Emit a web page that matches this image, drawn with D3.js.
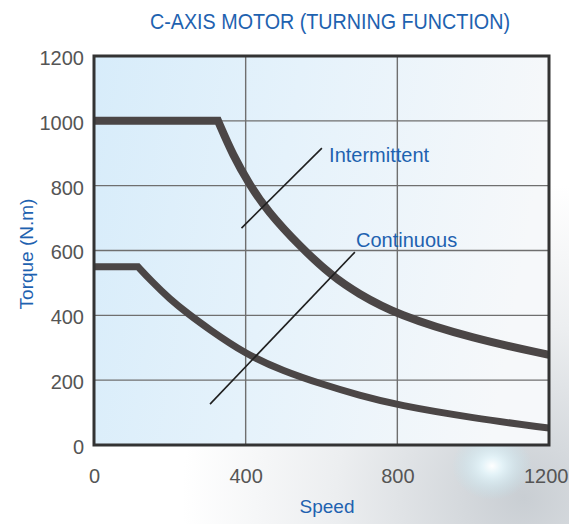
<!DOCTYPE html>
<html>
<head>
<meta charset="utf-8">
<script src="https://cdn.jsdelivr.net/npm/d3@7"></script>
<style>
  html, body { margin: 0; padding: 0; background: #fff; }
  svg { display: block; font-family: "Liberation Sans", Arial, sans-serif; }
</style>
</head>
<body>
<svg id="chart" width="569" height="524"></svg>
<script>
// Torque-speed envelope of the C-axis motor (speed vs torque in N.m)
const intermittentSpeed  = [0, 327, 367, 411, 455, 543, 630, 694, 800, 1000, 1200];
const intermittentTorque = [1000, 1000, 892, 802, 725, 612, 519, 469, 401, 328, 278];

const continuousSpeed  = [0, 116, 150, 200, 250, 300, 400, 500, 600, 700, 800, 1000, 1200];
const continuousTorque = [550, 550, 507, 450, 403, 360, 280, 228, 188, 153, 123, 83, 52];

const xTicks = [0, 400, 800, 1200];
const yTicks = [0, 200, 400, 600, 800, 1000, 1200];

// Callout labels: [text, label anchor (speed, torque), leader start, leader end]
const calloutNames = ["Intermittent", "Continuous"];
const calloutLabelAt = [[620, 873], [691, 611]];
const calloutLeaderFrom = [[389, 669], [306, 126]];
const calloutLeaderTo = [[601, 916], [688, 595]];

const titleText = "C-AXIS MOTOR (TURNING FUNCTION)";
const xTitle = "Speed";
const yTitle = "Torque (N.m)";

const svg = d3.select("#chart");
const W = 569, H = 524;
const plot = { left: 94, right: 549, top: 56, bottom: 445 };

const x = d3.scaleLinear().domain([0, 1200]).range([plot.left, plot.right]);
const y = d3.scaleLinear().domain([0, 1200]).range([plot.bottom, plot.top]);

const defs = svg.append("defs");

// soft page backdrop with a grey sheen and light flare in the lower right
const bgGrad = defs.append("radialGradient").attr("id", "pageGlow")
  .attr("cx", 0.92).attr("cy", 0.95).attr("r", 0.6);
bgGrad.append("stop").attr("offset", 0).attr("stop-color", "#c9ced3");
bgGrad.append("stop").attr("offset", 0.55).attr("stop-color", "#eceef0");
bgGrad.append("stop").attr("offset", 1).attr("stop-color", "#ffffff");
svg.append("rect").attr("width", W).attr("height", H).attr("fill", "url(#pageGlow)");

const flare = defs.append("radialGradient").attr("id", "flare");
flare.append("stop").attr("offset", 0).attr("stop-color", "#ffffff").attr("stop-opacity", 1);
flare.append("stop").attr("offset", 0.25).attr("stop-color", "#e6f6fb").attr("stop-opacity", 0.9);
flare.append("stop").attr("offset", 1).attr("stop-color", "#bfe3ee").attr("stop-opacity", 0);
svg.append("ellipse").attr("cx", 492).attr("cy", 466).attr("rx", 40).attr("ry", 34)
  .attr("fill", "url(#flare)");

// plot panel fill: light blue fading to white towards the right
const panelGrad = defs.append("linearGradient").attr("id", "panelFill")
  .attr("x1", 0).attr("y1", 0).attr("x2", 1).attr("y2", 0.15);
panelGrad.append("stop").attr("offset", 0).attr("stop-color", "#d7ecfa");
panelGrad.append("stop").attr("offset", 0.45).attr("stop-color", "#e5f2fb");
panelGrad.append("stop").attr("offset", 1).attr("stop-color", "#f6f8fa");
svg.append("rect")
  .attr("x", plot.left).attr("y", plot.top)
  .attr("width", plot.right - plot.left).attr("height", plot.bottom - plot.top)
  .attr("fill", "url(#panelFill)");

// grid
const grid = svg.append("g").attr("stroke", "#6f6f6f").attr("stroke-width", 1.4);
grid.selectAll("line.h").data(yTicks.slice(1, -1)).join("line")
  .attr("x1", plot.left).attr("x2", plot.right)
  .attr("y1", d => y(d)).attr("y2", d => y(d));
grid.selectAll("line.v").data(xTicks.slice(1, -1)).join("line")
  .attr("y1", plot.top).attr("y2", plot.bottom)
  .attr("x1", d => x(d)).attr("x2", d => x(d));

// axes (labels only; frame drawn separately)
const fmt = d3.format("d");
const xAxis = svg.append("g").attr("transform", `translate(0,${plot.bottom})`)
  .call(d3.axisBottom(x).tickValues(xTicks).tickFormat(fmt).tickSize(0).tickPadding(24));
const yAxis = svg.append("g").attr("transform", `translate(${plot.left},0)`)
  .call(d3.axisLeft(y).tickValues(yTicks).tickFormat(fmt).tickSize(0).tickPadding(10));
[xAxis, yAxis].forEach(a => {
  a.select(".domain").remove();
  a.selectAll("text").attr("fill", "#555").attr("font-size", 20)
    .attr("font-family", "'Liberation Sans', Arial, sans-serif");
});
yAxis.selectAll("text").attr("dy", "0.42em");
// last speed label sits flush against the page edge
xAxis.selectAll(".tick").filter(d => d === 1200).select("text")
  .attr("text-anchor", "end").attr("x", W - 1 - x(1200));

// curves: straight flat segment, then a smooth falloff from the corner
function envelopePath(speed, torque) {
  const pts = d3.zip(speed, torque);
  const falloff = d3.line().x(d => x(d[0])).y(d => y(d[1])).curve(d3.curveBasis)(pts.slice(1));
  return `M${x(pts[0][0])},${y(pts[0][1])}` + falloff.replace(/^M/, "L");
}

const clip = defs.append("clipPath").attr("id", "plotClip");
clip.append("rect").attr("x", plot.left).attr("y", plot.top)
  .attr("width", plot.right - plot.left).attr("height", plot.bottom - plot.top);

const curves = svg.append("g").attr("clip-path", "url(#plotClip)")
  .attr("fill", "none").attr("stroke", "#4b4646").attr("stroke-linejoin", "miter");
curves.append("path").attr("d", envelopePath(intermittentSpeed, intermittentTorque))
  .attr("stroke-width", 8);
curves.append("path").attr("d", envelopePath(continuousSpeed, continuousTorque))
  .attr("stroke-width", 7);

// leader lines
svg.append("g").selectAll("line").data(calloutNames).join("line")
  .attr("x1", (d, i) => x(calloutLeaderFrom[i][0])).attr("y1", (d, i) => y(calloutLeaderFrom[i][1]))
  .attr("x2", (d, i) => x(calloutLeaderTo[i][0])).attr("y2", (d, i) => y(calloutLeaderTo[i][1]))
  .attr("stroke", "#1f1f1f").attr("stroke-width", 1.6);

// frame
svg.append("rect")
  .attr("x", plot.left).attr("y", plot.top)
  .attr("width", plot.right - plot.left).attr("height", plot.bottom - plot.top)
  .attr("fill", "none").attr("stroke", "#333").attr("stroke-width", 3);

// callout text
svg.append("g").selectAll("text").data(calloutNames).join("text")
  .attr("x", (d, i) => x(calloutLabelAt[i][0])).attr("y", (d, i) => y(calloutLabelAt[i][1]))
  .attr("fill", "#1e62b0").attr("font-size", 20)
  .text(d => d);

// titles
svg.append("text").attr("x", 150).attr("y", 29)
  .attr("textLength", 360).attr("lengthAdjust", "spacingAndGlyphs")
  .attr("fill", "#1e62b0").attr("font-size", 22).text(titleText);
svg.append("text").attr("x", 327).attr("y", 513).attr("text-anchor", "middle")
  .attr("fill", "#1e62b0").attr("font-size", 19).text(xTitle);
svg.append("text").attr("transform", "translate(33,254) rotate(-90)")
  .attr("text-anchor", "middle")
  .attr("fill", "#1e62b0").attr("font-size", 19).text(yTitle);
</script>
</body>
</html>
